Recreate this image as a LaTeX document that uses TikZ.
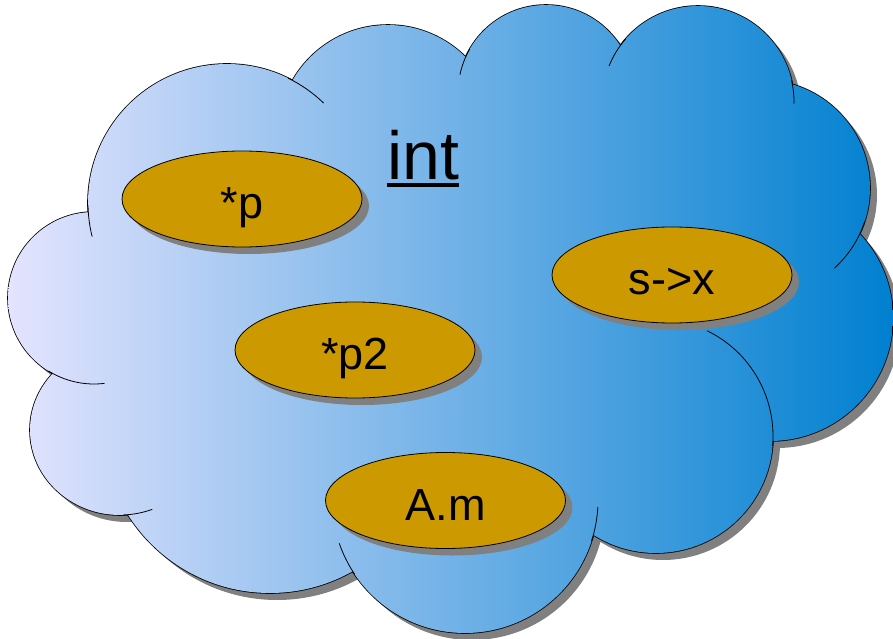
\documentclass[tikz,border=0pt]{standalone}
\usepackage{fontspec}
\setmainfont{Liberation Sans}
\usetikzlibrary{shapes.geometric,shadows}

\definecolor{cloudleft}{RGB}{228,228,254}
\definecolor{cloudright}{RGB}{0,128,208}
\definecolor{vargold}{RGB}{204,153,0}

% lobes of the cloud and the core that fills the gaps between them
\def\cloudlobes{(227,435) circle (139pt) (388,503) circle (110pt)
  (546,545) circle (88pt) (698,536) circle (96pt) (762,450) circle (108pt)
  (770,320) circle (123pt) (656,202) circle (117pt) (465,138) circle (133pt)
  (270,213) circle (168pt) (120,208) ellipse (90pt and 85pt) (94,340) circle (86pt)}
\def\cloudcore{(227,435) -- (94,340) -- (120,208) -- (270,213) -- (465,138)
  -- (656,202) -- (770,320) -- (762,450) -- (698,536) -- (546,545) -- (388,503) -- cycle}

\begin{document}
\begin{tikzpicture}[x=1pt, y=1pt,
    varnode/.style={ellipse, draw=black, line width=0.8pt, fill=vargold,
      minimum width=240pt, minimum height=96pt, inner sep=0pt,
      font=\fontsize{45}{54}\selectfont, text height=39pt, text depth=0pt,
      drop shadow={shadow xshift=7pt, shadow yshift=-7pt, opacity=1, fill=black!50}},
    crease/.style={line width=0.8pt}]
    \useasboundingbox (0,0) rectangle (893,638);

    % --- the cloud: shadow, outline, shading ---
    \fill[black!50, xshift=7pt, yshift=-7pt] \cloudlobes \cloudcore;
    \draw[line width=1.6pt] \cloudlobes;
    \shade[left color=cloudleft, right color=cloudright] \cloudlobes \cloudcore;

    % creases where a lobe runs on inside the cloud
    \foreach \cx/\cy/\r/\a/\b in {227/435/139/181/194, 227/435/139/64/46,
        546/545/88/150/168, 698/536/96/139/158, 698/536/96/13/-1,
        762/450/108/-18/-48, 656/202/117/-5/64, 465/138/133/-18/-3,
        465/138/133/214/199, 94/340/86/238/277} {
        \draw[crease] (\cx,\cy) ++(\a:\r pt) arc[start angle=\a, end angle=\b, radius=\r pt];
    }
    \draw[crease] (120,208) ++(-88:90pt and 85pt)
        arc[start angle=-88, end angle=-69, x radius=90pt, y radius=85pt];

    % --- type name ---
    \node[anchor=base, inner sep=0pt, font=\fontsize{68}{80}\selectfont] (typename) at (423,458) {int};
    \draw[line width=4pt] ([yshift=-5.5pt]typename.base west) -- ([yshift=-5.5pt]typename.base east);

    % --- the variables ---
    \node[varnode] (pvar) at (242,439) {*p};
    \node[varnode] (ptwovar) at (355,288) {*p2};
    \node[varnode] (amvar) at (445.5,137.5) {A.m};
    \node[varnode] (sxvar) at (672,363) {s->x};
\end{tikzpicture}
\end{document}
